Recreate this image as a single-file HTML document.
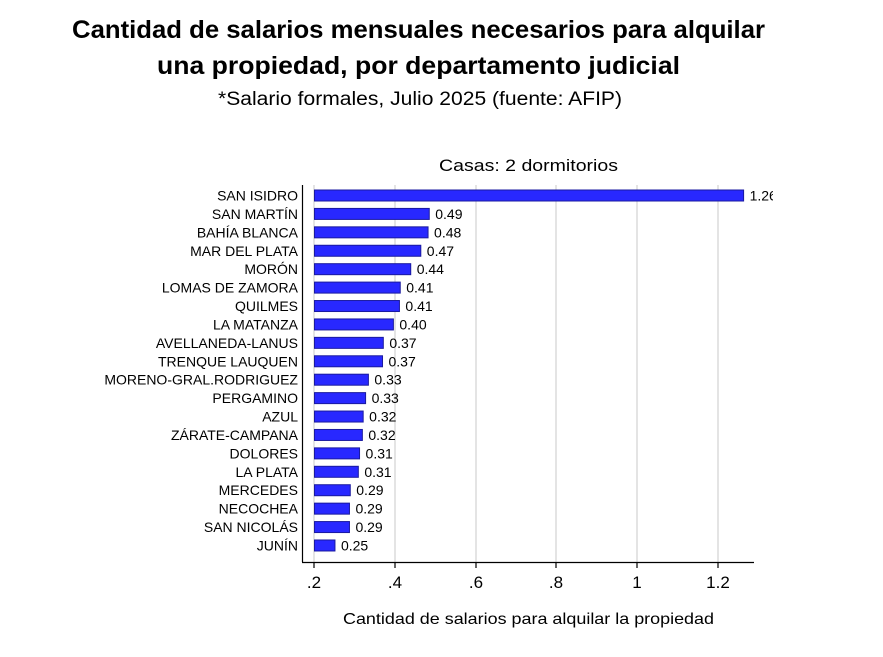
<!DOCTYPE html>
<html><head><meta charset="utf-8"><style>
body{margin:0;background:#fff;}
svg{display:block;font-family:"Liberation Sans",Arial,sans-serif;}
</style></head><body>
<svg width="883" height="657" viewBox="0 0 883 657" xmlns="http://www.w3.org/2000/svg">
<rect width="883" height="657" fill="#fff"/>
<text x="72" y="38" font-weight="bold" font-size="25" fill="#000" textLength="693" lengthAdjust="spacingAndGlyphs">Cantidad de salarios mensuales necesarios para alquilar</text>
<text x="157" y="74" font-weight="bold" font-size="25" fill="#000" textLength="523" lengthAdjust="spacingAndGlyphs">una propiedad, por departamento judicial</text>
<text x="218" y="105" font-size="19" fill="#000" textLength="404" lengthAdjust="spacingAndGlyphs">*Salario formales, Julio 2025 (fuente: AFIP)</text>
<text x="439" y="171" font-size="17" fill="#000" textLength="179" lengthAdjust="spacingAndGlyphs">Casas: 2 dormitorios</text>
<g stroke="#dcdcdc" stroke-width="1.5">
<line x1="314" y1="185" x2="314" y2="562"/><line x1="395" y1="185" x2="395" y2="562"/><line x1="476" y1="185" x2="476" y2="562"/><line x1="556" y1="185" x2="556" y2="562"/><line x1="637" y1="185" x2="637" y2="562"/><line x1="718" y1="185" x2="718" y2="562"/>
</g>
<line x1="302.5" y1="185" x2="302.5" y2="562" stroke="#000" stroke-width="1.2"/>
<line x1="302" y1="562.5" x2="754" y2="562.5" stroke="#000" stroke-width="1.2"/>
<g stroke="#000" stroke-width="1.2">
<line x1="314" y1="562" x2="314" y2="568"/><line x1="395" y1="562" x2="395" y2="568"/><line x1="476" y1="562" x2="476" y2="568"/><line x1="556" y1="562" x2="556" y2="568"/><line x1="637" y1="562" x2="637" y2="568"/><line x1="718" y1="562" x2="718" y2="568"/>
</g>
<g font-size="17" text-anchor="middle" fill="#000">
<text x="314" y="588">.2</text><text x="395" y="588">.4</text><text x="476" y="588">.6</text><text x="556" y="588">.8</text><text x="637" y="588">1</text><text x="718" y="588">1.2</text>
</g>
<text x="343" y="624" font-size="16" fill="#000" textLength="371" lengthAdjust="spacingAndGlyphs">Cantidad de salarios para alquilar la propiedad</text>
<defs><clipPath id="c"><rect x="0" y="0" width="773" height="657"/></clipPath></defs>
<g id="bars" clip-path="url(#c)" font-size="14" fill="#000"></g>
</svg>
<script>
var d=["SAN ISIDRO","SAN MARTÍN","BAHÍA BLANCA","MAR DEL PLATA","MORÓN","LOMAS DE ZAMORA","QUILMES","LA MATANZA","AVELLANEDA-LANUS","TRENQUE LAUQUEN","MORENO-GRAL.RODRIGUEZ","PERGAMINO","AZUL","ZÁRATE-CAMPANA","DOLORES","LA PLATA","MERCEDES","NECOCHEA","SAN NICOLÁS","JUNÍN"];
var disp=[1.26,0.49,0.48,0.47,0.44,0.41,0.41,0.40,0.37,0.37,0.33,0.33,0.32,0.32,0.31,0.31,0.29,0.29,0.29,0.25];
var real=[1.266,0.486,0.483,0.465,0.44,0.414,0.412,0.397,0.372,0.37,0.335,0.328,0.322,0.32,0.313,0.31,0.29,0.288,0.288,0.252];
var g=document.getElementById('bars'),s='';
for(var i=0;i<d.length;i++){var cy=195.5+i*18.42;var x2=314+(real[i]-0.2)*403;
s+='<text x="298" y="'+(cy+5)+'" text-anchor="end">'+d[i]+'</text>';
s+='<rect x="314.5" y="'+(cy-5.5)+'" width="'+(x2-314.5)+'" height="11" fill="#2828ff" stroke="#1a1aa0" stroke-width="1"/>';
s+='<text x="'+(x2+6)+'" y="'+(cy+5)+'">'+disp[i].toFixed(2)+'</text>';}
g.innerHTML=s;
</script>
</body></html>
